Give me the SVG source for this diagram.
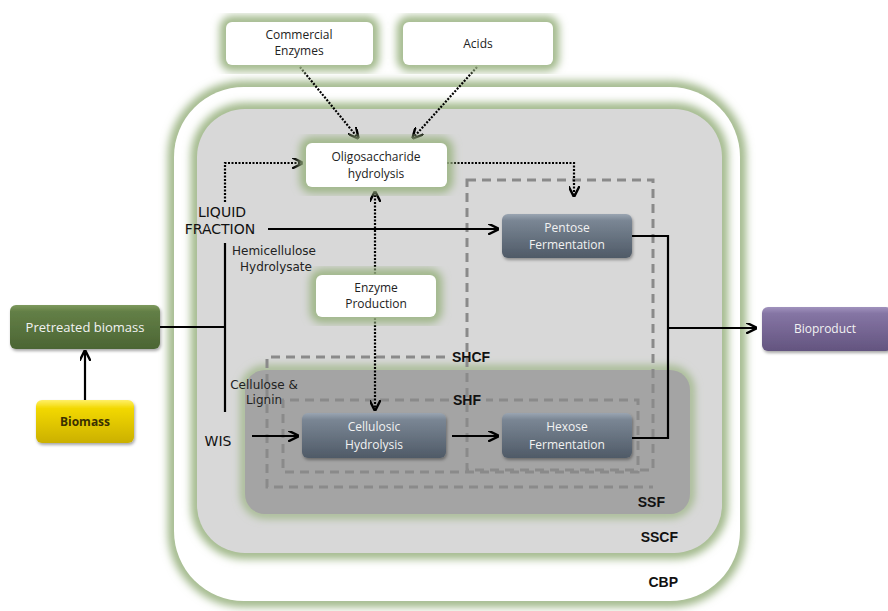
<svg xmlns="http://www.w3.org/2000/svg" width="888" height="611" viewBox="0 0 888 611">
  <defs>
    <filter id="soft" x="-20%" y="-20%" width="140%" height="140%">
      <feGaussianBlur stdDeviation="4"/>
    </filter>
    <filter id="shadow" x="-10%" y="-10%" width="130%" height="140%">
      <feDropShadow dx="1" dy="2" stdDeviation="1.5" flood-color="#000" flood-opacity="0.35"/>
    </filter>
    <linearGradient id="steel" x1="0" y1="0" x2="0" y2="1">
      <stop offset="0" stop-color="#9aa5b2"/>
      <stop offset="0.15" stop-color="#7a8694"/>
      <stop offset="1" stop-color="#4f5a67"/>
    </linearGradient>
    <linearGradient id="green" x1="0" y1="0" x2="0" y2="1">
      <stop offset="0" stop-color="#7d9a5e"/>
      <stop offset="0.15" stop-color="#637f46"/>
      <stop offset="1" stop-color="#4b6534"/>
    </linearGradient>
    <linearGradient id="yellow" x1="0" y1="0" x2="0" y2="1">
      <stop offset="0" stop-color="#fff066"/>
      <stop offset="0.2" stop-color="#f2d800"/>
      <stop offset="1" stop-color="#cbb000"/>
    </linearGradient>
    <linearGradient id="purple" x1="0" y1="0" x2="0" y2="1">
      <stop offset="0" stop-color="#a092bd"/>
      <stop offset="0.15" stop-color="#8575a4"/>
      <stop offset="1" stop-color="#63547f"/>
    </linearGradient>
    <marker id="arr" viewBox="0 0 10 10" refX="9" refY="5" markerWidth="5" markerHeight="5" orient="auto-start-reverse">
      <path d="M0,0 L10,5 L0,10" fill="none" stroke="#000" stroke-width="2.2"/>
    </marker>
  </defs>
  <style>
    .glow { fill: none; stroke: #9db585; stroke-width: 12; filter: url(#soft); }
    .white { fill: #ffffff; }
    .steel { fill: url(#steel); filter: url(#shadow); }
    .lbl { font-family: "Open Sans", "Noto Sans", sans-serif; font-size: 12px; fill: #222; text-anchor: middle; }
    .lblw { font-family: "Open Sans", "Noto Sans", sans-serif; font-size: 12px; fill: #f2f2f2; text-anchor: middle; }
    .side { font-family: "DejaVu Sans", Verdana, sans-serif; font-size: 12px; fill: #222; text-anchor: middle; }
    .big { font-family: "DejaVu Sans", Verdana, sans-serif; font-size: 14px; fill: #111; text-anchor: middle; }
    .zone { font-family: "Liberation Sans", Arial, sans-serif; font-size: 14px; font-weight: bold; fill: #111; }
    .dash { fill: none; stroke: #8a8a8a; stroke-width: 3; stroke-dasharray: 9 6; }
    .solid { fill: none; stroke: #000; stroke-width: 2.2; }
    .dot { fill: none; stroke: #000; stroke-width: 2.2; stroke-dasharray: 2 1.5; }
  </style>

  <rect width="888" height="611" fill="#ffffff"/>

  <!-- process envelopes -->
  <g id="cbp">
    <rect class="glow" x="174" y="87" width="566" height="514" rx="70"/>
    <rect class="white" x="174" y="87" width="566" height="514" rx="70"/>
    <text class="zone" x="678" y="587" text-anchor="end">CBP</text>
  </g>
  <g id="sscf">
    <rect class="glow" x="197" y="109" width="525" height="444" rx="48"/>
    <rect x="197" y="109" width="525" height="444" rx="48" fill="#d8d8d8"/>
    <text class="zone" x="678" y="542" text-anchor="end">SSCF</text>
  </g>
  <g id="ssf">
    <rect class="glow" x="245" y="370" width="445" height="144" rx="20" style="stroke-width:8"/>
    <rect x="245" y="370" width="445" height="144" rx="20" fill="#a4a4a4"/>
    <text class="zone" x="665" y="507" text-anchor="end">SSF</text>
  </g>
  <g id="pentose-zone">
    <rect class="dash" x="467" y="180" width="186" height="290"/>
  </g>
  <g id="shcf">
    <path class="dash" d="M445,357 H267 V487 H653"/>
    <text class="zone" x="471" y="362" text-anchor="middle">SHCF</text>
  </g>
  <g id="shf">
    <path class="dash" d="M449,400 H283 V472 H638 V400 H486"/>
    <text class="zone" x="467" y="405" text-anchor="middle">SHF</text>
  </g>

  <!-- connectors -->
  <g id="connectors">
    <line class="solid" x1="85" y1="400" x2="85" y2="351" marker-end="url(#arr)"/>
    <line class="solid" x1="160" y1="327" x2="225" y2="327"/>
    <line class="solid" x1="225" y1="243" x2="225" y2="412"/>
    <line class="solid" x1="268" y1="229" x2="498" y2="229" marker-end="url(#arr)"/>
    <line class="solid" x1="252" y1="436" x2="298" y2="436" marker-end="url(#arr)"/>
    <line class="solid" x1="452" y1="436" x2="498" y2="436" marker-end="url(#arr)"/>
    <polyline class="solid" points="632,236 668,236 668,438 632,438"/>
    <line class="solid" x1="668" y1="328" x2="756" y2="328" marker-end="url(#arr)"/>
    <polyline class="dot" points="225,202 225,163 302,163" marker-end="url(#arr)"/>
    <polyline class="dot" points="447,163 574,163 574,196" marker-end="url(#arr)"/>
    <line class="dot" x1="300" y1="67" x2="358" y2="138" marker-end="url(#arr)"/>
    <line class="dot" x1="477" y1="67" x2="413" y2="138" marker-end="url(#arr)"/>
    <line class="dot" x1="375" y1="274" x2="375" y2="192" marker-end="url(#arr)"/>
    <line class="dot" x1="375" y1="318" x2="375" y2="410" marker-end="url(#arr)"/>
  </g>

  <!-- side labels -->
  <g id="labels">
    <text class="big" x="222" y="217">LIQUID</text>
    <text class="big" x="220" y="234">FRACTION</text>
    <text class="side" x="274" y="255">Hemicellulose</text>
    <text class="side" x="276" y="271">Hydrolysate</text>
    <text class="side" x="264" y="389">Cellulose &amp;</text>
    <text class="side" x="264" y="404">Lignin</text>
    <text class="big" x="218" y="446">WIS</text>
  </g>

  <!-- nodes -->
  <g id="commercial-enzymes">
    <rect class="glow" x="226" y="22" width="147" height="43" rx="6"/>
    <rect class="white" x="226" y="22" width="147" height="43" rx="6"/>
    <text class="lbl" x="299" y="39">Commercial</text>
    <text class="lbl" x="299" y="55">Enzymes</text>
  </g>
  <g id="acids">
    <rect class="glow" x="403" y="22" width="150" height="43" rx="6"/>
    <rect class="white" x="403" y="22" width="150" height="43" rx="6"/>
    <text class="lbl" x="478" y="48">Acids</text>
  </g>
  <g id="oligosaccharide-hydrolysis">
    <rect class="glow" x="306" y="143" width="141" height="44" rx="6"/>
    <rect class="white" x="306" y="143" width="141" height="44" rx="6"/>
    <text class="lbl" x="376" y="161">Oligosaccharide</text>
    <text class="lbl" x="376" y="178">hydrolysis</text>
  </g>
  <g id="enzyme-production">
    <rect class="glow" x="316" y="275" width="120" height="42" rx="6"/>
    <rect class="white" x="316" y="275" width="120" height="42" rx="6"/>
    <text class="lbl" x="376" y="292">Enzyme</text>
    <text class="lbl" x="376" y="308">Production</text>
  </g>
  <g id="pentose-fermentation">
    <rect class="steel" x="502" y="214" width="130" height="44" rx="6"/>
    <text class="lblw" x="567" y="232">Pentose</text>
    <text class="lblw" x="567" y="249">Fermentation</text>
  </g>
  <g id="cellulosic-hydrolysis">
    <rect class="steel" x="302" y="413" width="144" height="45" rx="6"/>
    <text class="lblw" x="374" y="431">Cellulosic</text>
    <text class="lblw" x="374" y="449">Hydrolysis</text>
  </g>
  <g id="hexose-fermentation">
    <rect class="steel" x="502" y="413" width="130" height="45" rx="6"/>
    <text class="lblw" x="567" y="431">Hexose</text>
    <text class="lblw" x="567" y="449">Fermentation</text>
  </g>
  <g id="pretreated-biomass">
    <rect x="10" y="305" width="150" height="44" rx="6" fill="url(#green)" filter="url(#shadow)"/>
    <text class="lblw" x="85" y="332" style="font-size:13px">Pretreated biomass</text>
  </g>
  <g id="biomass">
    <rect x="36" y="400" width="98" height="43" rx="6" fill="url(#yellow)" filter="url(#shadow)"/>
    <text class="lbl" x="85" y="426" style="font-weight:bold;fill:#3a3000">Biomass</text>
  </g>
  <g id="bioproduct">
    <rect x="762" y="307" width="130" height="44" rx="6" fill="url(#purple)" filter="url(#shadow)"/>
    <text class="lblw" x="825" y="333">Bioproduct</text>
  </g>
</svg>
